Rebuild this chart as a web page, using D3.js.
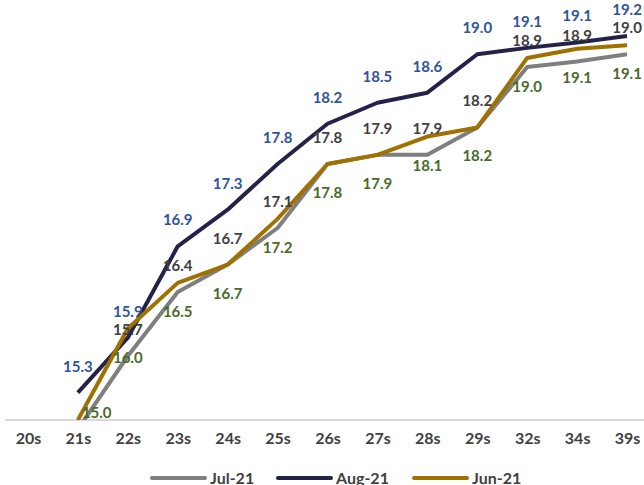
<!DOCTYPE html>
<html><head><meta charset="utf-8">
<script src="https://cdn.jsdelivr.net/npm/d3@7"></script>
<style>body{margin:0;background:#fff;}svg{display:block;font-family:Lato,"Open Sans",sans-serif;font-weight:bold;}</style>
</head><body>
<svg id="c" width="644" height="485"></svg>
<script>
const categories = ["20s","21s","22s","23s","24s","25s","26s","27s","28s","29s","32s","34s","39s"];
const seriesNames = ["Jul-21","Aug-21","Jun-21"];
const jul = [null,14.9,15.7,16.4,16.7,17.1,17.8,17.9,17.9,18.2,18.86,18.92,19.0];
const aug = [null,15.3,15.9,16.9,17.3,17.8,18.24,18.47,18.58,19.0,19.07,19.13,19.2];
const jun = [null,15.0,16.0,16.5,16.7,17.2,17.8,17.9,18.1,18.2,18.96,19.06,19.1];
const lineColors = ["#7f7f7f","#23234a","#a07000"];
const labelColors = ["#404040","#2f5597","#4a6a2a"];

const svg = d3.select("#c");
const x = d3.scalePoint().domain(categories).range([3,652]).padding(0.5);
const y = d3.scaleLinear().domain([15,19.2]).range([420,36]);

svg.append("defs").append("clipPath").attr("id","clip")
  .append("rect").attr("x",0).attr("y",0).attr("width",644).attr("height",420);

// axis
const xAxis = d3.axisBottom(x).tickSize(0).tickPadding(13);
const ag = svg.append("g").attr("transform","translate(0,420)").call(xAxis);
ag.select(".domain").attr("stroke","#d9d9d9").attr("stroke-width",2).attr("d","M5,0H644");
ag.selectAll("text").attr("font-size",16).attr("font-family","Lato,sans-serif").attr("font-weight","bold").attr("fill","#404040");

const data = [jul,aug,jun];
const line = d3.line().defined(d=>d[1]!=null).x(d=>x(d[0])).y(d=>y(d[1]));
const lg = svg.append("g").attr("clip-path","url(#clip)");
data.forEach((s,i)=>{
  lg.append("path").datum(categories.map((c,j)=>[c,s[j]]))
    .attr("d",line).attr("fill","none").attr("stroke",lineColors[i])
    .attr("stroke-width",4).attr("stroke-linejoin","round");
});

// labels
const offsets = [-21,-21,34];
data.forEach((s,i)=>{
  svg.append("g").selectAll("text").data(categories.map((c,j)=>[c,s[j]]).filter(d=>d[1]!=null && d[1]>=14.95))
    .join("text")
    .each(function(d){
      let ly = y(d[1])+offsets[i], lx = x(d[0]), anchor = "middle";
      if (ly > 418) { ly = 418; lx = lx + 4; anchor = "start"; }
      d3.select(this).attr("x",lx).attr("y",ly).attr("text-anchor",anchor);
    })
    .attr("font-size",15).attr("fill",labelColors[i])
    .text(d=>d3.format(".1f")(d[1]));
});

// legend
const legX = [152,278,414];
const lgd = svg.append("g");
seriesNames.forEach((n,i)=>{
  lgd.append("line").attr("x1",legX[i]).attr("x2",legX[i]+53).attr("y1",478).attr("y2",478)
    .attr("stroke",lineColors[i]).attr("stroke-width",4).attr("stroke-linecap","round");
  lgd.append("text").attr("x",legX[i]+58).attr("y",484).attr("font-size",16).attr("fill","#404040").text(n);
});
</script>
</body></html>
